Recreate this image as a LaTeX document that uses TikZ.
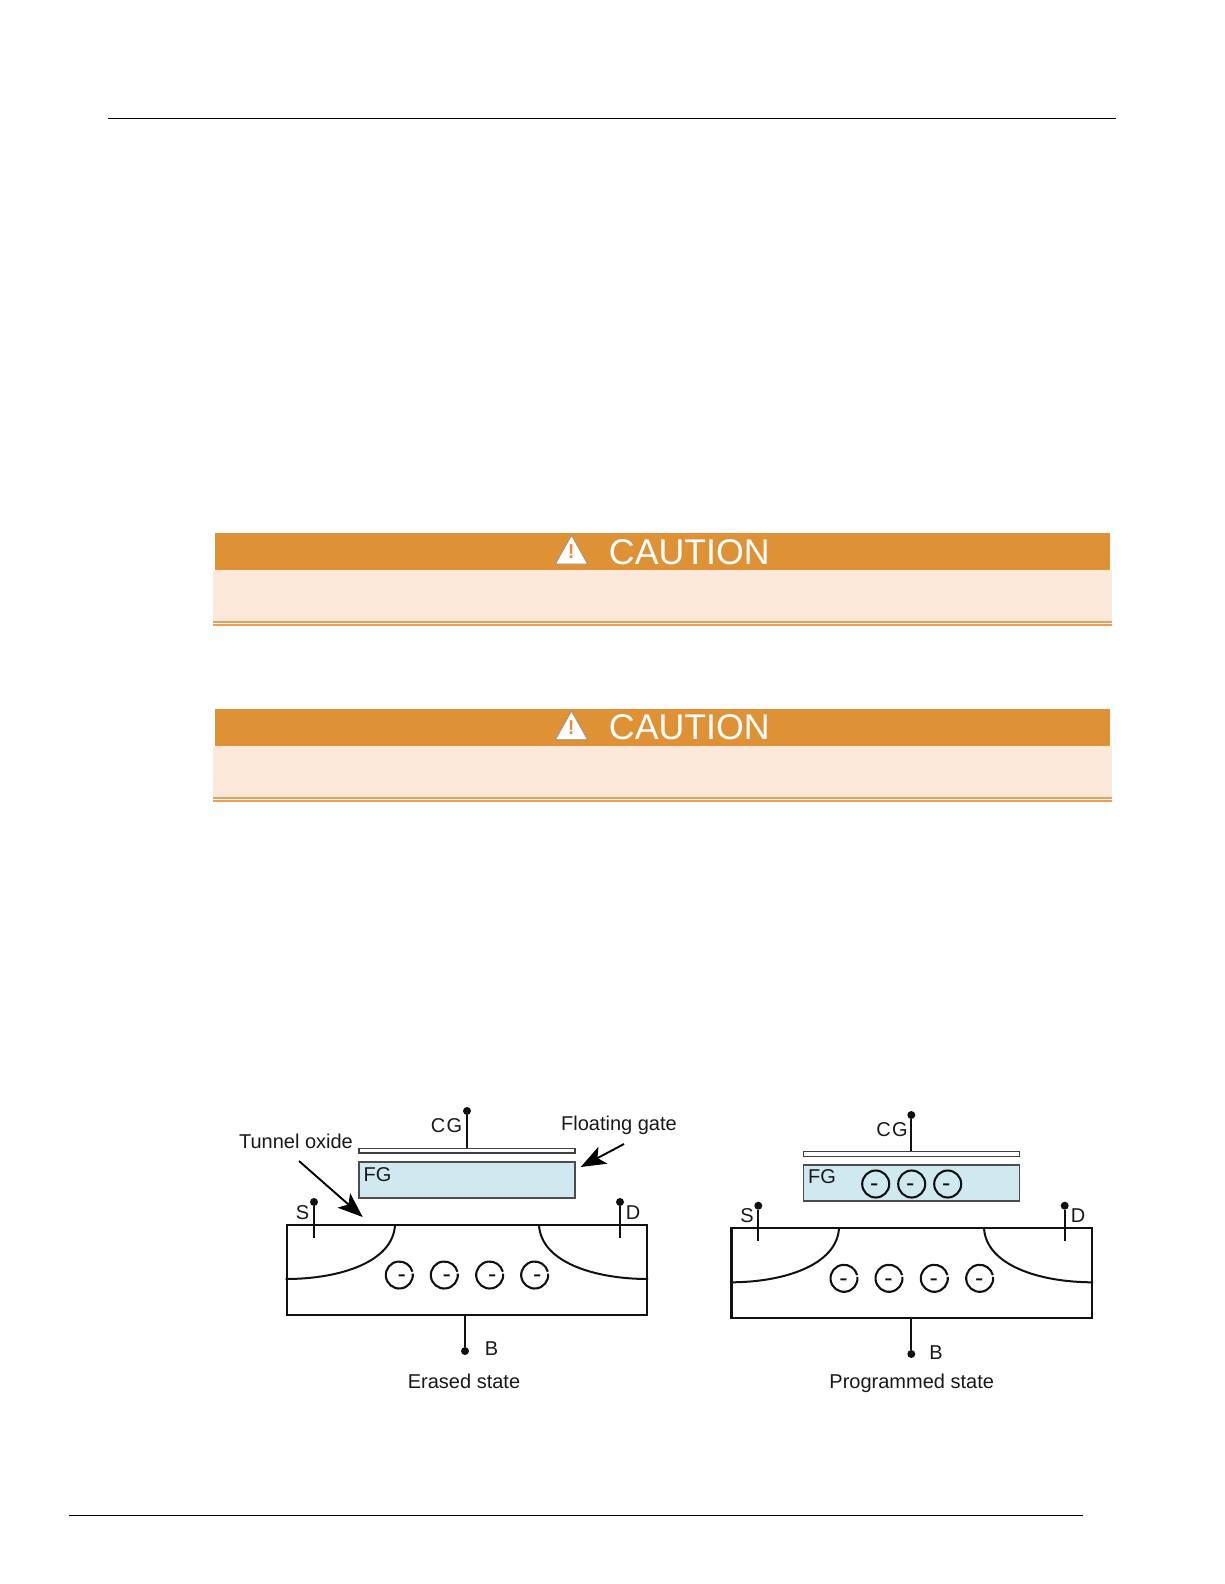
\documentclass[tikz,border=0pt]{standalone}
\usepackage{fontspec}
\setmainfont{Liberation Sans}
\usetikzlibrary{arrows.meta}
\definecolor{cauthead}{HTML}{DF9136}
\definecolor{cautbody}{HTML}{FCE9DA}
\definecolor{cautline}{HTML}{EE9E55}
\definecolor{fgblue}{HTML}{D0E9F0}
\definecolor{wireblack}{HTML}{111111}
\tikzset{
  x=1pt,y=-1pt,
  lbl/.style={inner sep=0pt,font=\fontsize{20}{24}\selectfont,text=black!90},
  plate/.style={draw=black!75,line width=1.3pt,fill=white,inner sep=0pt,minimum width=216pt,minimum height=4.5pt},
  fgbox/.style={draw=black!70,line width=1.1pt,fill=fgblue,inner sep=0pt,minimum width=216pt,minimum height=36pt},
  bodybox/.style={draw=wireblack,line width=2.1pt,inner sep=0pt,minimum width=360.5pt,minimum height=90pt},
  term/.style={circle,fill=wireblack,inner sep=0pt,minimum size=8pt},
  wire/.style={draw=wireblack,line width=2pt},
  electron/.style={draw=wireblack,line width=2.1pt},
  minus/.style={inner sep=0pt,font=\fontsize{25}{25}\selectfont,text=wireblack},
  ptr/.style={draw=black,line width=1.9pt,-{Stealth[length=25pt,width=19pt,inset=6pt]}},
  headbar/.style={fill=cauthead,draw=none,inner sep=0pt,minimum width=895pt,minimum height=37pt},
  bodybar/.style={fill=cautbody,draw=none,inner sep=0pt,minimum width=899pt,minimum height=52pt},
  cauttext/.style={inner sep=0pt,text=white,font=\fontsize{35.7}{40}\selectfont},
  rulelinea/.style={draw=cautline,line width=1.6pt}
}
\newcommand{\ckcaution}[2]{%
  % #1 name prefix, #2 vertical offset
  \node[bodybar] (#1body) at (662.5,596+#2) {};
  \node[headbar] (#1head) at (662.5,551.5+#2) {};
  \draw[rulelinea] (213,622+#2) -- (1112,622+#2);
  \draw[rulelinea] (213,625+#2) -- (1112,625+#2);
  \path[fill=white,draw=black!45,line width=.6pt,line join=round] (571.5,535.5+#2) -- (587.5,564+#2) -- (555.5,564+#2) -- cycle;
  \node[inner sep=0pt,text=cauthead,font=\bfseries\fontsize{20}{20}\selectfont] (#1mark) at (571.2,551.5+#2) {!};
  \node[cauttext] (#1text) at (689.3,552+#2) {CAUTION};
}
\begin{document}
\begin{tikzpicture}
\useasboundingbox (0,0) rectangle (1224,1584);
\fill[white] (0,0) rectangle (1224,1584);

% page rules
\coordinate (topl) at (108,118.5);
\coordinate (topr) at (1116,118.5);
\coordinate (botl) at (69,1515.5);
\coordinate (botr) at (1083,1515.5);
\draw[line width=1pt,black] (topl) -- (topr);
\draw[line width=1.8pt,black] (botl) -- (botr);

% caution bars
\ckcaution{a}{0}
\ckcaution{b}{175.7}

% ---- Erased state ----
\node[plate] (cgA) at (467,1150.8) {};
\node[fgbox] (fgA) at (467,1180) {};
\node[bodybox] (bodyA) at (466.9,1270) {};
\node[term] (cgtA) at (467,1111) {};
\draw[wire] (cgtA) -- (cgA.north);
\node[lbl] (cglA) at (446.5,1125.5) {C\kern1.5pt G};
\node[lbl,anchor=west] (fglA) at (363.5,1174.5) {FG};
\node[lbl] (fgateA) at (619,1125) {Floating gate};
\node[lbl] (tunnelA) at (296,1141.5) {Tunnel oxide};
\coordinate (fgaFrom) at (624,1144);
\coordinate (fgaTo) at (580.7,1167);
\coordinate (tunFrom) at (299,1161);
\coordinate (tunTo) at (362.7,1217);
\draw[ptr] (fgaFrom) -- (fgaTo);
\draw[ptr] (tunFrom) -- (tunTo);

\node[term] (stA) at (314,1202) {};
\coordinate (sbA) at (314,1238);
\draw[wire] (stA) -- (sbA);
\node[lbl] (slA) at (302.5,1212.5) {S};
\node[term] (dtA) at (620,1202) {};
\coordinate (dbA) at (620,1238);
\draw[wire] (dtA) -- (dbA);
\node[lbl] (dlA) at (633,1212.5) {D};
\node[term] (btA) at (465,1351) {};
\draw[wire] (btA) -- (btA |- bodyA.south);
\node[lbl] (blA) at (491.5,1348.5) {B};
\node[lbl] (capA) at (464,1381) {Erased state};

\coordinate (wlA) at (bodyA.west |- 0,1279);
\coordinate (wrA) at (bodyA.east |- 0,1279);
\draw[wire] (395,1225) .. controls (393,1262) and (340,1279) .. (wlA);
\draw[wire] (539,1225) .. controls (541,1262) and (594,1279) .. (wrA);

\foreach \n/\cx in {1/399.3,2/444.3,3/489.7,4/534.7}{
  \draw[electron] (\cx,1275) ++(-6:13.5) arc[start angle=-6,end angle=346,radius=13.5];
  \node[minus] (eA\n) at (\cx+2.5,1279) {-};
}

% ---- Programmed state ----
\node[plate] (cgB) at (911.7,1154) {};
\node[fgbox] (fgB) at (911.7,1183) {};
\node[bodybox] (bodyB) at (911.7,1273) {};
\node[term] (cgtB) at (911.3,1115) {};
\draw[wire] (cgtB) -- (cgtB |- cgB.north);
\node[lbl] (cglB) at (892,1130) {C\kern1.5pt G};
\node[lbl,anchor=west] (fglB) at (808,1176.5) {FG};

\node[term] (stB) at (758.3,1205.7) {};
\coordinate (sbB) at (758.3,1241);
\draw[wire] (stB) -- (sbB);
\node[lbl] (slB) at (747,1216) {S};
\node[term] (dtB) at (1064.7,1205.7) {};
\coordinate (dbB) at (1064.7,1241);
\draw[wire] (dtB) -- (dbB);
\node[lbl] (dlB) at (1078,1216) {D};
\node[term] (btB) at (911.3,1354) {};
\draw[wire] (btB) -- (btB |- bodyB.south);
\node[lbl] (blB) at (936,1352.5) {B};
\node[lbl] (capB) at (911.7,1383) {Programmed state};

\coordinate (wlB) at (bodyB.west |- 0,1282.3);
\coordinate (wrB) at (bodyB.east |- 0,1282.3);
\draw[wire] (839,1228) .. controls (837,1265) and (784,1282.3) .. (wlB);
\draw[wire] (984,1228) .. controls (986,1265) and (1039,1282.3) .. (wrB);

\foreach \n/\cx in {1/844,2/889,3/934.3,4/979.7}{
  \draw[electron] (\cx,1278.3) ++(-6:13.5) arc[start angle=-6,end angle=346,radius=13.5];
  \node[minus] (eB\n) at (\cx-.5,1282.3) {-};
}
\foreach \n/\cx in {1/875.7,2/911.7,3/947.7}{
  \node[circle,draw=wireblack,line width=2.1pt,inner sep=0pt,minimum size=27pt] (cF\n) at (\cx,1184) {};
  \node[minus] (eF\n) at (\cx-1.5,1188) {-};
}
\end{tikzpicture}
\end{document}
